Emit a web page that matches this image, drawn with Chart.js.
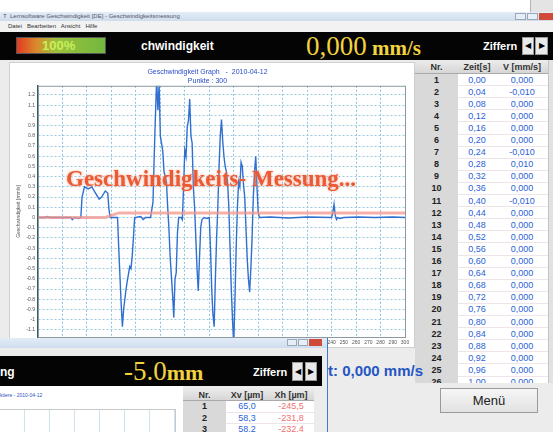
<!DOCTYPE html>
<html>
<head>
<meta charset="utf-8">
<script src="https://cdn.jsdelivr.net/npm/chart.js@4.4.1/dist/chart.umd.min.js"></script>
<style>
  body { margin: 0; width: 553px; height: 432px; overflow: hidden; background: #fff; position: relative; font-family: Arial, "Liberation Sans", sans-serif; }
  .abs { position: absolute; }
  .titlebar { background: linear-gradient(#e4edf7, #cddcec); }
  .tiny { font-size: 6px; color: #556; white-space: nowrap; }
  .black { background: #040404; }
  .wbold { color: #fff; font-weight: bold; white-space: nowrap; }
  .yellow { color: #f2d23e; font-family: "Liberation Serif", "DejaVu Serif", serif; white-space: nowrap; }
  .arrow { background: #e9e9e9; border: 1px solid #999; color: #000; font-size: 8px; text-align: center; box-sizing: border-box; }
  .wbtn { background: #e8eef6; border: 1px solid #9aa8b8; box-sizing: border-box; }
  .cell { position: absolute; text-align: center; font-size: 9px; white-space: nowrap; }
</style>
</head>
<body>

<!-- background window corner -->
<div class="abs" style="left:530px;top:0;width:23px;height:12px;background:#e4e4e4;border-left:1px solid #b4b4b4;"></div>

<!-- main window -->
<div class="abs" style="left:0;top:12px;width:553px;height:420px;background:#ececec;"></div>
<div class="abs titlebar" style="left:0;top:12px;width:553px;height:9px;"></div>
<div class="abs tiny" style="left:3px;top:12px;line-height:9px;">T&nbsp; Lernsoftware Geschwindigkeit [DE] - Geschwindigkeitsmessung</div>
<div class="abs wbtn" style="left:515px;top:13px;width:11px;height:7px;"></div>
<div class="abs wbtn" style="left:527px;top:13px;width:11px;height:7px;"></div>
<div class="abs" style="left:539px;top:13px;width:14px;height:7px;background:#d04a3a;"></div>
<div class="abs" style="left:0;top:21px;width:553px;height:11px;background:#f2f2f2;"></div>
<div class="abs tiny" style="left:8px;top:22px;line-height:9px;color:#333;">Datei&nbsp;&nbsp; Bearbeiten&nbsp;&nbsp; Ansicht&nbsp;&nbsp; Hilfe</div>

<!-- black header bar -->
<div class="abs black" style="left:0;top:32px;width:553px;height:28px;"></div>
<div class="abs" style="left:16px;top:37px;width:90px;height:17px;background:linear-gradient(90deg,#e23a22 0%,#d98a2c 22%,#9cc03c 45%,#72b83e 100%);border:1px solid #555;box-sizing:border-box;"></div>
<div class="abs" style="left:42px;top:38px;font-size:13px;font-weight:bold;color:#c6f05a;">100%</div>
<div class="abs wbold" style="left:141px;top:39px;font-size:12px;">chwindigkeit</div>
<div class="abs yellow" style="left:306px;top:31px;font-size:27px;">0,000<span style="font-size:21px;font-weight:bold;">&nbsp;mm/s</span></div>
<div class="abs wbold" style="left:483px;top:40px;font-size:11px;">Ziffern</div>
<div class="abs arrow" style="left:522px;top:37px;width:12px;height:18px;line-height:16px;">&#9664;</div>
<div class="abs arrow" style="left:535px;top:37px;width:13px;height:18px;line-height:16px;">&#9654;</div>

<!-- chart panel -->
<div class="abs" style="left:9px;top:62px;width:406px;height:286px;background:#fff;border:1px solid #cfcfcf;box-sizing:border-box;">
  <canvas id="speedChart" width="404" height="284"></canvas>
</div>
<div class="abs" style="left:66px;top:166px;font-family:'Liberation Serif','DejaVu Serif',serif;font-weight:bold;font-size:23px;color:#ec5a34;text-shadow:0 0 3px rgba(250,140,110,0.8);white-space:nowrap;">Geschwindigkeits- Messung...</div>

<!-- value table -->
<div id="table" class="abs" style="left:415px;top:60px;width:133px;height:323px;overflow:hidden;background:#fff;"></div>
<div class="abs" style="left:548px;top:60px;width:5px;height:323px;background:#e2e2e2;border-left:1px solid #c4c4c4;box-sizing:border-box;"></div>

<div class="abs" style="left:328px;top:362px;font-size:15px;font-weight:bold;color:#2456c4;white-space:nowrap;">t: 0,000 mm/s</div>
<div class="abs" style="left:440px;top:388px;width:98px;height:25px;background:linear-gradient(#f6f6f6,#e2e2e2);border:1px solid #9a9a9a;box-sizing:border-box;font-size:13px;color:#222;text-align:center;line-height:23px;">Menü</div>

<!-- second window (bottom left) -->
<div class="abs" style="left:0;top:338px;width:328px;height:94px;background:#ececec;border-right:1px solid #3d7cc9;box-sizing:border-box;"></div>
<div class="abs titlebar" style="left:0;top:338px;width:327px;height:10px;"></div>
<div class="abs wbtn" style="left:287px;top:339px;width:10px;height:7px;"></div>
<div class="abs wbtn" style="left:298px;top:339px;width:10px;height:7px;"></div>
<div class="abs" style="left:309px;top:339px;width:13px;height:7px;background:#d04a3a;"></div>
<div class="abs black" style="left:0;top:356px;width:322px;height:30px;"></div>
<div class="abs wbold" style="left:0;top:365px;font-size:12px;">ng</div>
<div class="abs yellow" style="left:124px;top:356px;font-size:27px;">-5.0<span style="font-size:22px;font-weight:bold;">mm</span></div>
<div class="abs wbold" style="left:253px;top:366px;font-size:11px;">Ziffern</div>
<div class="abs arrow" style="left:292px;top:362px;width:11px;height:19px;line-height:17px;">&#9664;</div>
<div class="abs arrow" style="left:305px;top:362px;width:12px;height:19px;line-height:17px;">&#9654;</div>
<div class="abs" style="left:0;top:386px;width:183px;height:46px;background:#fff;"></div>
<div class="abs tiny" style="left:0;top:392px;color:#2d55c0;font-size:5px;">ktiere - 2010-04-12</div>
<div class="abs" style="left:0;top:409px;width:175px;height:30px;border:1px solid #c8c8c8;border-left:none;background:repeating-linear-gradient(90deg,transparent 0 24px,#cfe3ee 24px 25px);"></div>
<div id="table2" class="abs" style="left:183px;top:388px;width:131px;height:44px;overflow:hidden;background:#fff;"></div>

<script>
// Blue speed curve: point number and velocity (mm/s)
const pointIdx = [0, 5, 8, 10, 20, 27, 28, 30, 33, 35, 36, 38, 41, 44, 47, 50, 52, 55, 57, 58, 59, 65,
  66, 68, 69, 70, 72, 73, 75, 76, 77, 78, 79, 84, 86, 88, 92,
  94, 95, 96, 97, 98, 99, 100, 102, 103, 105, 106, 107, 108, 110, 111, 112, 113, 114, 115, 117, 118,
  119, 120, 121, 122, 123, 124, 125, 126, 127, 128, 129, 130, 131, 132, 133, 134, 136, 138, 140,
  141, 142, 143, 144, 145, 146, 147, 148, 149, 150, 151, 152, 153, 154, 155, 156, 157, 158, 159, 160, 161, 162,
  163, 164, 165, 166, 167, 168, 169, 170, 171, 172, 173, 174, 175, 176, 177, 178, 179, 180, 181,
  190, 205, 220, 240, 241, 242, 243, 244, 245, 247, 250, 262, 275, 290, 300];
const speedVals = [0, 0, 0.01, 0, 0, 0, -0.02, 0, -0.01, 0, 0.2, 0.3, 0.28, 0.3, 0.24, 0.18, 0.2, 0.26, 0.24, 0.08, 0, 0,
  -0.3, -0.85, -1.07, -0.9, -0.7, -0.62, -0.48, -0.5, -0.38, -0.2, 0, 0.01, -0.02, 0, 0,
  0.15, 0.6, 1.0, 1.35, 1.05, 1.3, 0.8, 0.65, 0.45, 0.35, 0.1, -0.1, -0.38, -0.75, -0.98, -0.6, -0.54, -0.15, 0, 0, -0.02,
  0.3, 0.66, 0.6, 0.89, 0.95, 1.16, 0.8, 0.73, 0.3, 0.1, -0.2, -0.5, -0.72, -0.4, -0.1, -0.02, 0, -0.01, 0,
  -0.3, -0.7, -0.95, -1.07, -0.6, -0.2, 0.1, 0.5, 0.8, 0.96, 0.75, 0.6, 0.5, 0.45, 0.34, 0.1, -0.3, -0.7, -1.0, -1.25, -0.8, -0.3,
  0.1, 0.35, 0.3, 0.54, 0.5, 0.32, 0.2, -0.1, -0.4, -0.6, -0.73, -0.5, -0.2, 0.2, 0.45, 0.6, 0.3, 0.05, 0,
  0.005, -0.005, 0.005, 0, 0.05, 0.13, 0.02, -0.02, 0, -0.01, 0, 0.005, 0, 0.005, 0];

// Pink reference line
const refIdx = [0, 55, 66, 300];
const refVals = [0, 0, 0.045, 0.045];

const yTicks = [1.2, 1.1, 1, 0.9, 0.8, 0.7, 0.6, 0.5, 0.4, 0.3, 0.2, 0.1, 0, -0.1, -0.2, -0.3, -0.4, -0.5, -0.6, -0.7, -0.8, -0.9, -1, -1.1];
const xTicks = [0, 10, 20, 30, 40, 50, 60, 70, 80, 90, 100, 110, 120, 130, 140, 150, 160, 170, 180, 190, 200, 210, 220, 230, 240, 250, 260, 270, 280, 290, 300];

// Table on the right
const zeitVals = ['0,00', '0,04', '0,08', '0,12', '0,16', '0,20', '0,24', '0,28', '0,32', '0,36', '0,40', '0,44', '0,48',
  '0,52', '0,56', '0,60', '0,64', '0,68', '0,72', '0,76', '0,80', '0,84', '0,88', '0,92', '0,96', '1,00'];
const vVals = ['0,000', '-0,010', '0,000', '0,000', '0,000', '0,000', '-0,010', '0,010', '0,000', '0,000', '-0,010', '0,000', '0,000',
  '0,000', '0,000', '0,000', '0,000', '0,000', '0,000', '0,000', '0,000', '0,000', '0,000', '0,000', '0,000', '0,000'];

// Table in the second window
const xvVals = ['65,0', '58,3', '58,2'];
const xhVals = ['-245,5', '-231,8', '-232,4'];

function buildTable(el, headers, cols, widths, colors, rowTop, rowH) {
  let html = '';
  let left = 0;
  // Nr. column background
  html += `<div style="position:absolute;left:0;top:0;width:${widths[0]}px;height:100%;background:#d9d9d9;"></div>`;
  html += `<div style="position:absolute;left:0;top:0;width:100%;height:${rowTop}px;background:linear-gradient(#ececec,#d6d6d6);border-bottom:1px solid #aaa;box-sizing:border-box;"></div>`;
  headers.forEach((h, c) => {
    html += `<div class="cell" style="left:${left}px;top:${rowTop / 2 - 5}px;width:${widths[c]}px;font-weight:bold;color:#333;">${h}</div>`;
    left += widths[c];
  });
  cols[0].forEach((_, r) => {
    const top = rowTop + r * rowH;
    html += `<div style="position:absolute;left:${widths[0]}px;top:${top + rowH - 1}px;width:100%;height:1px;background:#efe4ea;"></div>`;
    let l = 0;
    cols.forEach((col, c) => {
      const weight = c === 0 ? 'bold' : 'normal';
      html += `<div class="cell" style="left:${l}px;top:${top + rowH / 2 - 5.5}px;width:${widths[c]}px;color:${colors[c]};font-weight:${weight};">${col[r]}</div>`;
      l += widths[c];
    });
  });
  el.innerHTML = html;
}

const nrList = zeitVals.map((_, i) => i + 1);
buildTable(document.getElementById('table'), ['Nr.', 'Zeit[s]', 'V [mm/s]'], [nrList, zeitVals, vVals],
  [43, 38, 52], ['#222', '#2b63d6', '#2b63d6'], 14, 12.1);
buildTable(document.getElementById('table2'), ['Nr.', 'Xv [µm]', 'Xh [µm]'], [[1, 2, 3], xvVals, xhVals],
  [43, 42, 46], ['#222', '#2b63d6', '#f07070'], 13, 11.5);

// Frame around the plot area
const framePlugin = {
  id: 'frame',
  afterDraw(chart) {
    const a = chart.chartArea;
    const ctx = chart.ctx;
    ctx.save();
    ctx.strokeStyle = '#8a9aa0';
    ctx.lineWidth = 1;
    ctx.strokeRect(a.left + 0.5, a.top + 0.5, a.right - a.left, a.bottom - a.top);
    ctx.restore();
  }
};

const ctx = document.getElementById('speedChart').getContext('2d');
new Chart(ctx, {
  type: 'scatter',
  data: {
    datasets: [
      {
        label: 'Referenz',
        data: refIdx.map((x, i) => ({ x: x, y: refVals[i] })),
        showLine: true,
        borderColor: 'rgba(242, 150, 140, 0.75)',
        borderWidth: 3,
        pointRadius: 0
      },
      {
        label: 'Geschwindigkeit',
        data: pointIdx.map((x, i) => ({ x: x, y: speedVals[i] })),
        showLine: true,
        borderColor: '#2f6fd0',
        borderWidth: 1.4,
        pointRadius: 0
      }
    ]
  },
  options: {
    animation: false,
    responsive: false,
    layout: { padding: { left: 0, right: 9, top: 0, bottom: 0 } },
    plugins: {
      legend: { display: false },
      tooltip: { enabled: false },
      title: {
        display: true,
        text: ['Geschwindigkeit Graph   -  2010-04-12', 'Punkte : 300'],
        color: '#2a4cc6',
        font: { size: 7, family: 'Arial', weight: 'normal' },
        padding: { top: 5, bottom: 1 }
      }
    },
    scales: {
      x: {
        type: 'linear',
        min: 0,
        max: 300,
        afterBuildTicks: function(scale) {
          scale.ticks = xTicks.map(v => ({ value: v }));
        },
        afterFit: function(scale) { scale.height = 10; },
        grid: {
          color: function(c) { return c.tick && c.tick.value % 20 === 0 ? '#8ec4dc' : 'rgba(0,0,0,0)'; },
          tickLength: 0
        },
        border: { color: '#4a6870', dash: [2, 2] },
        ticks: { color: '#555', font: { size: 5 }, padding: 3, maxRotation: 0, autoSkip: false }
      },
      y: {
        min: -1.17,
        max: 1.29,
        afterBuildTicks: function(scale) {
          scale.ticks = yTicks.map(v => ({ value: v }));
        },
        afterFit: function(scale) { scale.width = 28; },
        grid: { color: '#98cadf', tickLength: 0 },
        border: { color: '#3c5a62', width: 1.5, dash: [2, 2] },
        ticks: {
          color: '#555',
          font: { size: 5 },
          padding: 3,
          autoSkip: false,
          callback: function(value) { return String(Number(value.toFixed(1))); }
        },
        title: {
          display: true,
          text: 'Geschwindigkeit [mm/s]',
          color: '#555',
          font: { size: 5 },
          padding: { top: 6, bottom: 0 }
        }
      }
    }
  },
  plugins: [framePlugin]
});
</script>
</body>
</html>
